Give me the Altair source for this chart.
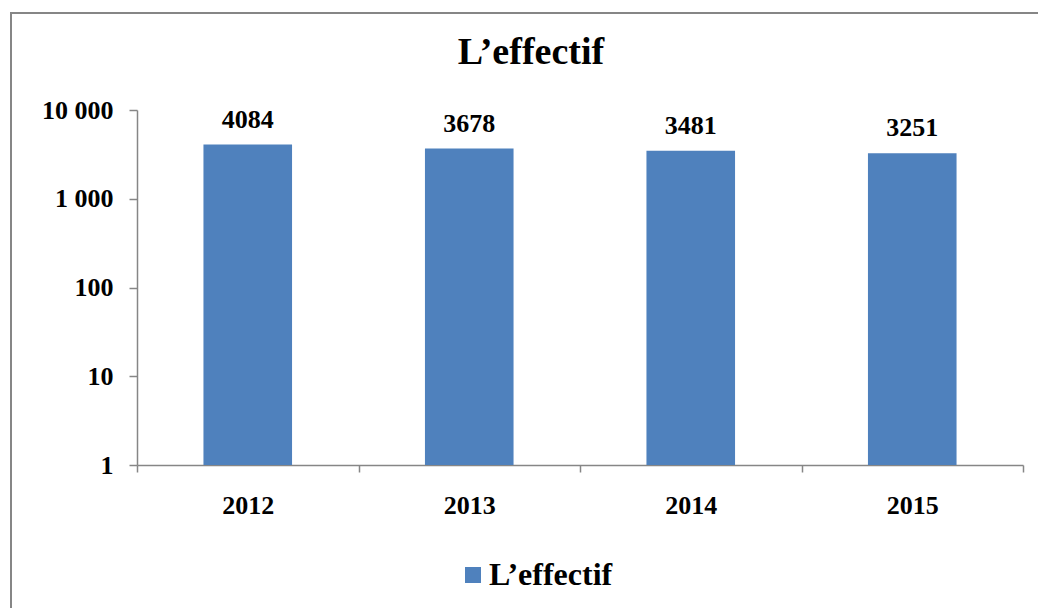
import altair as alt
import pandas as pd

# Headcount per year
years = ["2012", "2013", "2014", "2015"]
effectif = [4084, 3678, 3481, 3251]
series_name = "L\u2019effectif"

# Log axis ticks and their printed labels
tick_values = [1, 10, 100, 1000, 10000]
tick_labels = ["1", "10", "100", "1 000", "10 000"]

FONT = "Liberation Serif"
BAR_COLOR = "#4F81BD"
AXIS_GREY = "#868686"

df = pd.DataFrame({
    "annee": years,
    "effectif": effectif,
    "base": [tick_values[0]] * len(years),  # bars start at the log axis minimum
    "label": [str(v) for v in effectif],
    "serie": [series_name] * len(years),
})

# nested ternary mapping tick value -> printed label
label_expr = "''"
for v, t in zip(tick_values, tick_labels):
    label_expr = f"datum.value == {v} ? '{t}' : ({label_expr})"

x_enc = alt.X(
    "annee:N",
    title=None,
    scale=alt.Scale(paddingInner=0, paddingOuter=0),
    axis=alt.Axis(
        labelAngle=0, labelFont=FONT, labelFontSize=26, labelFontWeight="bold",
        labelColor="black", labelPadding=20, tickSize=7, tickBand="extent",
        tickColor=AXIS_GREY, tickWidth=1.5, domainColor=AXIS_GREY, domainWidth=1.5,
        grid=False,
    ),
)
y_enc = alt.Y(
    "effectif:Q",
    title=None,
    scale=alt.Scale(type="log", domain=[1, 10000], nice=False),
    axis=alt.Axis(
        values=tick_values, labelExpr=label_expr, labelFont=FONT, labelFontSize=26,
        labelFontWeight="bold", labelColor="black", labelPadding=16, tickSize=8,
        tickColor=AXIS_GREY, tickWidth=1.5, domainColor=AXIS_GREY, domainWidth=1.5,
        grid=False,
    ),
)

base = alt.Chart(df)

bars = base.mark_bar(width=alt.RelativeBandSize(0.4), color=BAR_COLOR).encode(
    x=x_enc,
    y=y_enc,
    y2="base:Q",
    color=alt.Color(
        "serie:N",
        scale=alt.Scale(range=[BAR_COLOR]),
        legend=alt.Legend(
            title=None, orient="none", legendX=320, legendY=449, padding=0,
            symbolType="square", symbolSize=256, symbolStrokeWidth=0,
            labelFont=FONT, labelFontSize=32, labelFontWeight="bold",
            labelColor="black", labelOffset=0,
        ),
    ),
)

values = base.mark_text(
    font=FONT, fontSize=26, fontWeight="bold", color="black",
    baseline="alphabetic", dy=-17,
).encode(x="annee:N", y="effectif:Q", text="label:N")

# outer frame (left and top edges)
frame_left = base.mark_rule(color=AXIS_GREY, strokeWidth=2).encode(
    x=alt.value(-126), y=alt.value(-97), y2=alt.value(520)
)
frame_top = base.mark_rule(color=AXIS_GREY, strokeWidth=2).encode(
    x=alt.value(-127), x2=alt.value(920), y=alt.value(-97)
)

chart = (
    alt.layer(frame_left, frame_top, bars, values)
    .properties(
        width=886,
        height=355,
        padding={"left": 137, "top": 110, "right": 15, "bottom": 143},
        autosize=alt.AutoSizeParams(type="none"),
        title=alt.TitleParams(
            text=series_name, font=FONT, fontSize=38, fontWeight="bold",
            color="black", anchor="middle", frame="group", dx=-49,
            baseline="alphabetic", offset=0, dy=90,
        ),
    )
    .configure(background="white")
    .configure_view(stroke=None, strokeWidth=0)
)

chart.save("out.html", embed_options={"renderer": "svg", "actions": False})
